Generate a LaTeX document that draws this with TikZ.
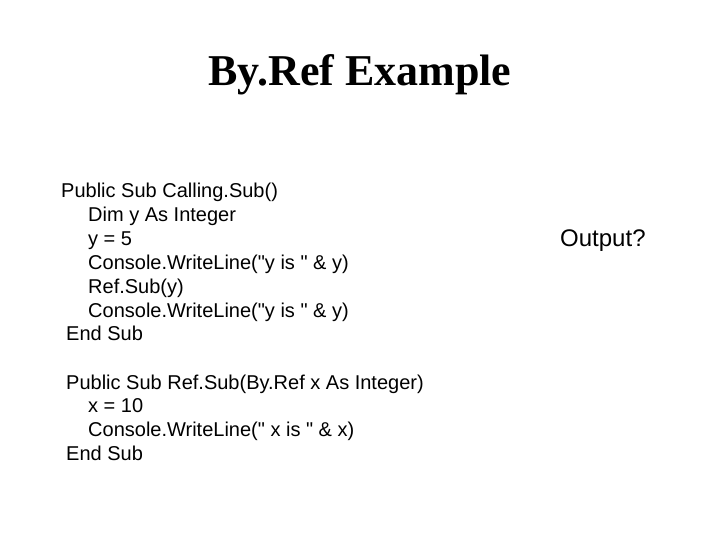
\documentclass[tikz,border=0pt]{standalone}
\usepackage{fontspec}
\setmainfont{Liberation Sans}
\newfontfamily\codefont{Liberation Sans}
\newfontfamily\titlefont{Liberation Serif}
\begin{document}
\begin{tikzpicture}[x=1pt,y=-1pt,
  codeline/.style={anchor=base west,inner sep=0pt,font=\codefont\fontsize{20}{24}\selectfont},
  titletext/.style={anchor=base,inner sep=0pt,font=\titlefont\bfseries\fontsize{44}{52}\selectfont},
  outtext/.style={anchor=base west,inner sep=0pt,font=\codefont\fontsize{24}{28}\selectfont}]
\useasboundingbox[fill=white] (0,0) rectangle (720,540);
\node[titletext] (title) at (360,85.5) {By.Ref Example};
\node[codeline] (l1) at (61,198) {Public Sub Calling.Sub()};
\node[codeline] (l2) at (88,221.8) {Dim y As Integer};
\node[codeline] (l3) at (88,245.6) {y = 5};
\node[codeline] (l4) at (88,269.4) {Console.WriteLine("y is " \& y)};
\node[codeline] (l5) at (88,293.2) {Ref.Sub(y)};
\node[codeline] (l6) at (88,317) {Console.WriteLine("y is " \& y)};
\node[codeline] (l7) at (66,340.8) {End Sub};
\node[codeline] (m1) at (66,389) {Public Sub Ref.Sub(By.Ref x As Integer)};
\node[codeline] (m2) at (88,412.8) {x = 10};
\node[codeline] (m3) at (88,436.6) {Console.WriteLine(" x is " \& x)};
\node[codeline] (m4) at (66,460.4) {End Sub};
\node[outtext] (out) at (560,246) {Output?};
\end{tikzpicture}
\end{document}
